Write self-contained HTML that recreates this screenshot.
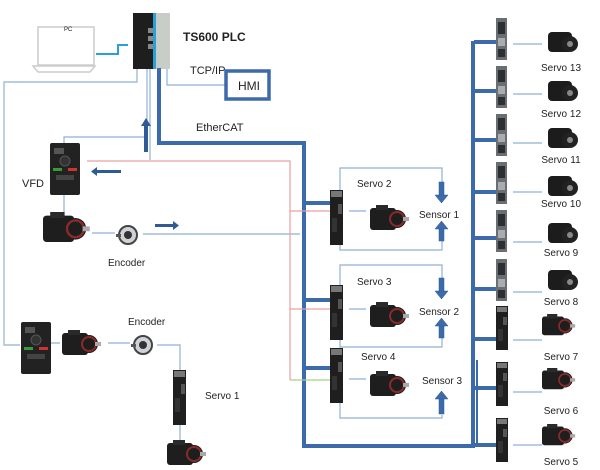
<!DOCTYPE html>
<html><head><meta charset="utf-8"><style>
html,body{margin:0;padding:0;background:#fff}
svg{display:block}
text{font-family:"Liberation Sans",Arial,sans-serif;fill:#222}
</style></head><body>
<svg width="600" height="470" viewBox="0 0 600 470" xmlns="http://www.w3.org/2000/svg">
<defs>
<g id="motor">
 <rect x="0" y="3" width="26" height="22" rx="3" fill="#1e1e1e"/>
 <rect x="6" y="0" width="12" height="5" fill="#2a2a2a"/>
 <circle cx="27" cy="14" r="9" fill="#1e1e1e"/>
 <circle cx="27" cy="14" r="7" fill="none" stroke="#8b2a2a" stroke-width="2"/>
 <rect x="33" y="12" width="6" height="4" fill="#aaa"/>
</g>
<g id="drive">
 <rect x="0" y="0" width="13" height="55" fill="#1f1f1f"/>
 <rect x="1" y="1" width="11" height="6" fill="#777"/>
 <rect x="8" y="14" width="4" height="10" fill="#555"/>
 <rect x="2" y="28" width="5" height="14" fill="#333"/>
</g>
<g id="drives">
 <rect x="0" y="0" width="12" height="44" fill="#1f1f1f"/>
 <rect x="1" y="1" width="10" height="5" fill="#777"/>
 <rect x="7" y="11" width="4" height="8" fill="#555"/>
 <rect x="2" y="23" width="5" height="12" fill="#333"/>
</g>
<g id="drivelt">
 <rect x="0" y="0" width="11" height="42" fill="#6a6e72"/>
 <rect x="2" y="4" width="7" height="12" fill="#2b2f33"/>
 <rect x="2" y="20" width="7" height="8" fill="#a9adb0"/>
 <rect x="2" y="31" width="7" height="8" fill="#2b2f33"/>
</g>
<g id="motor2">
 <rect x="0" y="4" width="24" height="20" rx="4" fill="#1c1c1c"/>
 <circle cx="22" cy="16" r="8" fill="#222"/>
 <circle cx="22" cy="16" r="3" fill="#888"/>
</g>
<g id="enc">
 <circle cx="12" cy="9" r="9" fill="#cfd3d8" stroke="#444" stroke-width="2"/>
 <circle cx="12" cy="9" r="4" fill="#333"/>
 <rect x="0" y="8" width="5" height="3" fill="#555"/>
</g>
<g id="vfd">
 <rect x="0" y="0" width="30" height="52" rx="2" fill="#222"/>
 <rect x="4" y="5" width="10" height="6" fill="#555"/>
 <circle cx="15" cy="18" r="5" fill="#333" stroke="#555"/>
 <rect x="3" y="25" width="9" height="3" fill="#3a9a3a"/>
 <rect x="18" y="25" width="9" height="3" fill="#c33"/>
 <rect x="6" y="32" width="18" height="5" fill="#444"/>
</g>
</defs>

<!-- PC -->
<rect x="38" y="27" width="56" height="38" fill="none" stroke="#ccc" stroke-width="1.5"/>
<path d="M33 66 L95 66 L90 72 L38 72 Z" fill="none" stroke="#ccc" stroke-width="1.5"/>
<text x="64" y="31" font-size="6" fill="#555">PC</text>
<polyline points="96,54 118,54 118,45 128,45" fill="none" stroke="#2aa0d8" stroke-width="2"/>

<!-- PLC -->
<rect x="133" y="13" width="21" height="56" fill="#1e1e1e"/>
<rect x="148" y="28" width="5" height="5" fill="#888"/><rect x="148" y="36" width="5" height="5" fill="#888"/><rect x="148" y="44" width="5" height="5" fill="#888"/>
<rect x="154" y="13" width="16" height="56" fill="#c9cdc8"/>
<rect x="153" y="13" width="3" height="56" fill="#2aa0d8"/>
<text x="183" y="41" font-size="12" font-weight="bold">TS600 PLC</text>

<!-- HMI -->
<polyline points="167,69 167,85 225,85" fill="none" stroke="#8fb0d8" stroke-width="1.2"/>
<text x="190" y="74" font-size="11">TCP/IP</text>
<rect x="226" y="71" width="43" height="28" fill="#fff" stroke="#3d6aab" stroke-width="3.5"/>
<text x="238" y="90" font-size="12">HMI</text>

<!-- EtherCAT bus -->
<g fill="none" stroke="#3d6aab" stroke-width="4">
<polyline points="159,68 159,143 304,143 304,446 473,446 473,41"/>
</g>
<line x1="477" y1="360" x2="477" y2="446" stroke="#3d6aab" stroke-width="2"/>
<text x="196" y="131" font-size="11">EtherCAT</text>

<!-- thin lines -->
<g fill="none" stroke="#8fb0d8" stroke-width="1.2">
<polyline points="137,69 137,82 4,82 4,345 20,345"/>
<polyline points="147,69 147,137 64,137 64,143"/>
<polyline points="150,69 150,160"/>
<line x1="64" y1="195" x2="64" y2="213"/>
<line x1="92" y1="233" x2="115" y2="233"/>
<line x1="143" y1="234" x2="300" y2="234"/>
<line x1="43" y1="343" x2="60" y2="343"/>
<line x1="108" y1="343" x2="130" y2="343"/>
<polyline points="157,345 180,345 180,370"/>
<line x1="180" y1="425" x2="180" y2="440"/>
</g>
<g fill="none" stroke="#e8a0a0" stroke-width="1.2">
<polyline points="87,161 290,161 290,380"/>
<line x1="290" y1="211" x2="330" y2="211"/>
<line x1="290" y1="309" x2="330" y2="309"/>
</g>
<line x1="290" y1="380" x2="330" y2="380" stroke="#a8d08d" stroke-width="1.2"/>

<!-- arrows left side -->
<g fill="#2f5a93">
<rect x="144" y="124" width="4" height="28"/><path d="M141 126 L146 118 L151 126 Z"/>
<rect x="95" y="170" width="26" height="3"/><path d="M97 167 L91 171.5 L97 176 Z"/>
<rect x="155" y="224" width="20" height="3"/><path d="M173 221 L179 225.5 L173 230 Z"/>
</g>

<!-- VFD + motor + encoder top -->
<use href="#vfd" x="50" y="143"/>
<text x="22" y="187" font-size="11">VFD</text>
<use href="#motor" transform="translate(43,212) scale(1.2)"/>
<use href="#enc" x="116" y="226"/>
<text x="108" y="266" font-size="10">Encoder</text>

<!-- bottom left -->
<use href="#vfd" x="21" y="322"/>
<use href="#motor" x="62" y="330"/>
<use href="#enc" x="131" y="336"/>
<text x="128" y="325" font-size="10">Encoder</text>
<use href="#drive" x="173" y="370"/>
<text x="205" y="399" font-size="10">Servo 1</text>
<use href="#motor" x="167" y="440"/>

<!-- middle servos -->
<g fill="none" stroke="#8fb0d8" stroke-width="1.2">
<polyline points="340,190 340,168 442,168 442,182"/>
<polyline points="340,245 340,250 442,250 442,240"/>
<polyline points="340,285 340,265 442,265 442,278"/>
<polyline points="340,340 340,347 442,347 442,338"/>
<polyline points="340,403 340,418 442,418 442,415"/>
<line x1="349" y1="211" x2="366" y2="211"/>
<line x1="349" y1="309" x2="366" y2="309"/>
<line x1="349" y1="379" x2="366" y2="379"/>
</g>
<g fill="#3d6aab">
<rect x="304" y="201" width="26" height="4"/>
<rect x="304" y="298" width="26" height="4"/>
<rect x="304" y="366" width="26" height="4"/>
</g>
<g fill="#3d6aab" stroke="#2f5a93" stroke-width="0.5">
<rect x="439" y="182" width="5" height="14"/><path d="M435 195 L441.5 203 L448 195 Z"/>
<rect x="439" y="228" width="5" height="13"/><path d="M435 229 L441.5 221 L448 229 Z"/>
<rect x="439" y="278" width="5" height="14"/><path d="M435 291 L441.5 299 L448 291 Z"/>
<rect x="439" y="325" width="5" height="13"/><path d="M435 326 L441.5 318 L448 326 Z"/>
<rect x="439" y="398" width="5" height="16"/><path d="M435 399 L441.5 391 L448 399 Z"/>
</g>
<use href="#drive" x="330" y="190"/>
<use href="#drive" x="330" y="285"/>
<use href="#drive" x="330" y="348"/>
<use href="#motor" x="370" y="205"/>
<use href="#motor" x="370" y="302"/>
<use href="#motor" x="370" y="371"/>
<text x="357" y="187" font-size="10">Servo 2</text>
<text x="419" y="218" font-size="10">Sensor 1</text>
<text x="357" y="285" font-size="10">Servo 3</text>
<text x="419" y="315" font-size="10">Sensor 2</text>
<text x="361" y="360" font-size="10">Servo 4</text>
<text x="422" y="384" font-size="10">Sensor 3</text>

<!-- right column -->
<g fill="#3d6aab">
<rect x="474" y="40" width="22" height="4"/>
<rect x="474" y="89" width="22" height="4"/>
<rect x="474" y="138" width="22" height="4"/>
<rect x="474" y="190" width="22" height="4"/>
<rect x="474" y="236" width="22" height="4"/>
<rect x="474" y="287" width="22" height="4"/>
<rect x="474" y="337" width="22" height="4"/>
<rect x="474" y="386" width="22" height="4"/>
<rect x="474" y="443" width="22" height="4"/>
</g>
<g stroke="#8fb0d8" stroke-width="1.2">
<line x1="513" y1="44" x2="542" y2="44"/><line x1="513" y1="94" x2="542" y2="94"/>
<line x1="513" y1="143" x2="542" y2="143"/><line x1="513" y1="192" x2="542" y2="192"/>
<line x1="513" y1="242" x2="542" y2="242"/><line x1="513" y1="292" x2="542" y2="292"/>
<line x1="513" y1="340" x2="542" y2="340"/><line x1="513" y1="392" x2="542" y2="392"/>
<line x1="513" y1="445" x2="542" y2="445"/>
</g>
<use href="#drivelt" x="496" y="18"/><use href="#drivelt" x="496" y="66"/>
<use href="#drivelt" x="496" y="114"/><use href="#drivelt" x="496" y="162"/>
<use href="#drivelt" x="496" y="210"/><use href="#drivelt" x="496" y="259"/>
<use href="#drives" x="496" y="306"/>
<use href="#drives" x="496" y="362"/>
<use href="#drives" x="496" y="418"/>
<use href="#motor2" x="548" y="28"/><use href="#motor2" x="548" y="77"/>
<use href="#motor2" x="548" y="124"/><use href="#motor2" x="548" y="172"/>
<use href="#motor2" x="548" y="219"/><use href="#motor2" x="548" y="266"/>
<use href="#motor" transform="translate(542,314) scale(0.85)"/>
<use href="#motor" transform="translate(542,368) scale(0.85)"/>
<use href="#motor" transform="translate(542,424) scale(0.85)"/>
<g font-size="10" text-anchor="middle">
<text x="561" y="71">Servo 13</text><text x="561" y="117">Servo 12</text>
<text x="561" y="163">Servo 11</text><text x="561" y="207">Servo 10</text>
<text x="561" y="256">Servo 9</text><text x="561" y="305">Servo 8</text>
<text x="561" y="360">Servo 7</text><text x="561" y="414">Servo 6</text>
<text x="561" y="465">Servo 5</text>
</g>
</svg>
</body></html>
